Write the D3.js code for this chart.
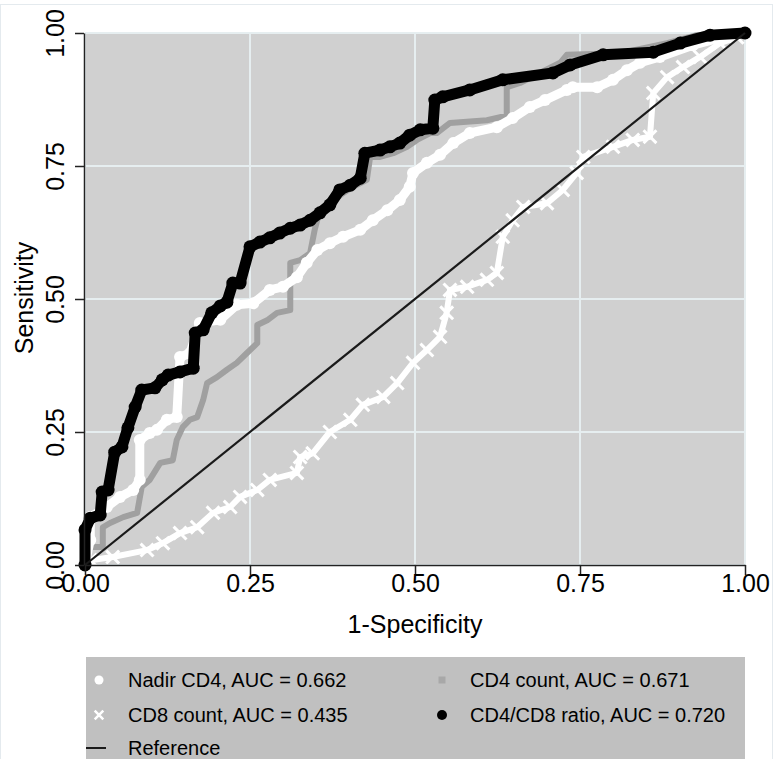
<!DOCTYPE html>
<html>
<head>
<meta charset="utf-8">
<script src="https://cdn.jsdelivr.net/npm/d3@7"></script>
<style>
  body { margin: 0; background: #fff; }
  text { font-family: "Liberation Sans", Arial, sans-serif; }
</style>
</head>
<body>
<svg width="774" height="759"></svg>
<script>
// ROC curves, values as [1-specificity, sensitivity]

const nadirCD4 = [[0,0],[0.008,0.047],[0.008,0.090],[0.033,0.109],[0.053,0.128],[0.073,0.141],[0.083,0.160],
  [0.083,0.235],[0.098,0.248],[0.109,0.254],[0.124,0.273],[0.139,0.278],[0.144,0.391],[0.159,0.398],
  [0.174,0.455],[0.205,0.461],[0.230,0.489],[0.255,0.492],[0.280,0.517],[0.300,0.523],[0.321,0.541],
  [0.336,0.568],[0.352,0.592],[0.371,0.605],[0.391,0.617],[0.417,0.630],[0.436,0.648],[0.458,0.667],
  [0.477,0.686],[0.492,0.711],[0.497,0.737],[0.518,0.756],[0.538,0.771],[0.558,0.793],[0.583,0.812],
  [0.624,0.823],[0.648,0.840],[0.674,0.861],[0.697,0.874],[0.730,0.893],[0.739,0.898],[0.776,0.898],
  [0.800,0.912],[0.821,0.930],[0.841,0.944],[0.871,0.955],[0.921,0.977],[0.962,0.991],[1,1]];

const cd4Count = [[0,0],[0.008,0.034],[0.027,0.034],[0.027,0.071],[0.038,0.079],[0.058,0.090],[0.079,0.098],
  [0.086,0.147],[0.098,0.160],[0.114,0.192],[0.133,0.197],[0.139,0.235],[0.148,0.259],[0.159,0.273],
  [0.170,0.278],[0.179,0.310],[0.185,0.342],[0.200,0.353],[0.215,0.367],[0.230,0.380],[0.245,0.398],
  [0.261,0.417],[0.261,0.451],[0.276,0.460],[0.291,0.474],[0.311,0.479],[0.311,0.568],[0.326,0.573],
  [0.341,0.586],[0.348,0.630],[0.356,0.667],[0.371,0.680],[0.391,0.699],[0.406,0.711],[0.427,0.724],
  [0.432,0.767],[0.447,0.767],[0.467,0.774],[0.488,0.786],[0.503,0.799],[0.523,0.812],[0.533,0.812],
  [0.553,0.831],[0.609,0.836],[0.629,0.842],[0.639,0.842],[0.639,0.898],[0.659,0.906],[0.720,0.944],
  [0.730,0.959],[0.811,0.962],[0.882,0.981],[0.927,0.996],[1,1]];

const cd8Count = [[0,0],[0.008,0.009],[0.042,0.015],[0.094,0.028],[0.118,0.041],[0.144,0.060],[0.170,0.071],
  [0.194,0.098],[0.220,0.109],[0.235,0.128],[0.261,0.141],[0.280,0.160],[0.321,0.173],[0.326,0.203],
  [0.345,0.210],[0.371,0.250],[0.402,0.273],[0.421,0.301],[0.452,0.316],[0.473,0.342],[0.497,0.380],
  [0.518,0.404],[0.538,0.429],[0.548,0.474],[0.553,0.517],[0.579,0.523],[0.609,0.536],[0.624,0.549],
  [0.633,0.617],[0.648,0.648],[0.664,0.673],[0.700,0.680],[0.724,0.705],[0.745,0.737],[0.755,0.767],
  [0.800,0.786],[0.830,0.799],[0.856,0.805],[0.861,0.887],[0.882,0.917],[0.906,0.936],[0.932,0.955],
  [0.962,0.981],[0.988,0.992],[1,1]];

const cd4cd8Ratio = [[0,0],[0,0.066],[0.008,0.088],[0.023,0.094],[0.026,0.137],[0.035,0.141],[0.045,0.212],
  [0.056,0.222],[0.065,0.258],[0.076,0.297],[0.086,0.329],[0.106,0.333],[0.117,0.348],[0.126,0.357],
  [0.144,0.363],[0.164,0.370],[0.167,0.436],[0.179,0.442],[0.192,0.474],[0.205,0.487],[0.215,0.494],
  [0.224,0.530],[0.235,0.530],[0.250,0.598],[0.265,0.607],[0.280,0.615],[0.295,0.624],[0.311,0.633],
  [0.326,0.639],[0.341,0.648],[0.356,0.662],[0.371,0.677],[0.386,0.705],[0.402,0.714],[0.417,0.727],
  [0.424,0.774],[0.447,0.780],[0.462,0.786],[0.477,0.793],[0.492,0.808],[0.508,0.818],[0.527,0.821],
  [0.530,0.874],[0.542,0.880],[0.583,0.893],[0.633,0.912],[0.709,0.925],[0.735,0.940],[0.785,0.959],
  [0.861,0.964],[0.902,0.981],[0.947,0.996],[1,1]];

const ticks = [0, 0.25, 0.5, 0.75, 1];
const legendLabels = ["Nadir CD4, AUC = 0.662", "CD4 count, AUC = 0.671",
  "CD8 count, AUC = 0.435", "CD4/CD8 ratio, AUC = 0.720", "Reference"];

const svg = d3.select('svg');
const x = d3.scaleLinear().domain([0, 1]).range([85, 745]);
const y = d3.scaleLinear().domain([0, 1]).range([565, 33]);

// outer frame
svg.append('rect').attr('x', 0.5).attr('y', 4.5).attr('width', 772).attr('height', 760)
  .attr('fill', 'none').attr('stroke', '#e4eaee');

// plot background + grid
svg.append('rect').attr('x', x(0)).attr('y', y(1)).attr('width', x(1) - x(0)).attr('height', y(0) - y(1))
  .attr('fill', '#d0d0d0');

const grid = svg.append('g').attr('stroke', '#e6eef0').attr('stroke-width', 2);
grid.selectAll('.gx').data(ticks).enter().append('line')
  .attr('x1', d => x(d)).attr('x2', d => x(d)).attr('y1', y(0)).attr('y2', y(1));
grid.selectAll('.gy').data(ticks).enter().append('line')
  .attr('y1', d => y(d)).attr('y2', d => y(d)).attr('x1', x(0)).attr('x2', x(1));

const line = d3.line().x(d => x(d[0])).y(d => y(d[1]));

// CD4 count - gray squares
svg.append('path').datum(cd4Count).attr('d', line)
  .attr('fill', 'none').attr('stroke', '#a0a0a0').attr('stroke-width', 6).attr('stroke-linejoin', 'round');

// Nadir CD4 - white circles
svg.append('path').datum(nadirCD4).attr('d', line)
  .attr('fill', 'none').attr('stroke', '#fff').attr('stroke-width', 9).attr('stroke-linejoin', 'round');
svg.append('g').selectAll('circle').data(nadirCD4).enter().append('circle')
  .attr('cx', d => x(d[0])).attr('cy', d => y(d[1])).attr('r', 6).attr('fill', '#fff');

// CD8 count - white x
svg.append('path').datum(cd8Count).attr('d', line)
  .attr('fill', 'none').attr('stroke', '#fff').attr('stroke-width', 6).attr('stroke-linejoin', 'round');
svg.append('g').selectAll('path').data(cd8Count).enter().append('path')
  .attr('d', d3.symbol().type(d3.symbolX).size(110))
  .attr('transform', d => `translate(${x(d[0])},${y(d[1])})`)
  .attr('stroke', '#fff').attr('stroke-width', 3);

// CD4/CD8 ratio - black circles
svg.append('path').datum(cd4cd8Ratio).attr('d', line)
  .attr('fill', 'none').attr('stroke', '#000').attr('stroke-width', 11).attr('stroke-linejoin', 'round');
svg.append('g').selectAll('circle').data(cd4cd8Ratio).enter().append('circle')
  .attr('cx', d => x(d[0])).attr('cy', d => y(d[1])).attr('r', 6.5).attr('fill', '#000');

// reference diagonal
svg.append('line').attr('x1', x(0)).attr('y1', y(0)).attr('x2', x(1)).attr('y2', y(1))
  .attr('stroke', '#1a1a1a').attr('stroke-width', 2.2);

// axes
const fmt = d3.format('.2f');
const yAxis = svg.append('g').attr('transform', `translate(${x(0) - 1},0)`)
  .call(d3.axisLeft(y).tickValues(ticks).tickFormat(fmt).tickSize(9).tickSizeOuter(0));
yAxis.selectAll('text').attr('transform', 'rotate(-90)').attr('x', 0).attr('y', -20)
  .attr('dy', 0).attr('text-anchor', 'middle');

const xAxis = svg.append('g').attr('transform', `translate(0,${y(0)})`)
  .call(d3.axisBottom(x).tickValues(ticks).tickFormat(fmt).tickSize(10).tickSizeOuter(0));
xAxis.selectAll('text').attr('y', 27).attr('dy', 0);

[yAxis, xAxis].forEach(a => {
  a.select('.domain').attr('stroke', '#222').attr('stroke-width', 1.5);
  a.selectAll('.tick line').attr('stroke', '#222').attr('stroke-width', 1.5);
  a.selectAll('text').attr('font-size', 25).attr('fill', '#000')
    .attr('font-family', '"Liberation Sans", Arial, sans-serif');
});

svg.append('text').attr('transform', 'translate(33,298) rotate(-90)').attr('text-anchor', 'middle')
  .attr('font-size', 25).text('Sensitivity');
svg.append('text').attr('x', 415).attr('y', 633).attr('text-anchor', 'middle')
  .attr('font-size', 25).text('1-Specificity');

// legend
const lg = svg.append('g');
lg.append('rect').attr('x', 86).attr('y', 657).attr('width', 659).attr('height', 110).attr('fill', '#c0c0c0');

const rowY = [680, 715, 748];
const colMark = [99, 442];
const colText = [128, 470];

lg.append('circle').attr('cx', colMark[0]).attr('cy', rowY[0]).attr('r', 4.5).attr('fill', '#fff');
lg.append('rect').attr('x', colMark[1] - 3.5).attr('y', rowY[0] - 3.5).attr('width', 7).attr('height', 7).attr('fill', '#a8a8a8');
lg.append('path').attr('d', d3.symbol().type(d3.symbolX).size(50))
  .attr('transform', `translate(${colMark[0]},${rowY[1]})`).attr('stroke', '#fff').attr('stroke-width', 2.5);
lg.append('circle').attr('cx', colMark[1]).attr('cy', rowY[1]).attr('r', 5).attr('fill', '#000');
lg.append('line').attr('x1', 86).attr('x2', 106).attr('y1', rowY[2]).attr('y2', rowY[2])
  .attr('stroke', '#1a1a1a').attr('stroke-width', 2);

const pos = [[colText[0], rowY[0]], [colText[1], rowY[0]], [colText[0], rowY[1]], [colText[1], rowY[1]], [colText[0], rowY[2]]];
lg.selectAll('text.lab').data(legendLabels).enter().append('text')
  .attr('x', (d, i) => pos[i][0]).attr('y', (d, i) => pos[i][1]).attr('dy', '0.35em')
  .attr('font-size', 20).text(d => d);
</script>
</body>
</html>
